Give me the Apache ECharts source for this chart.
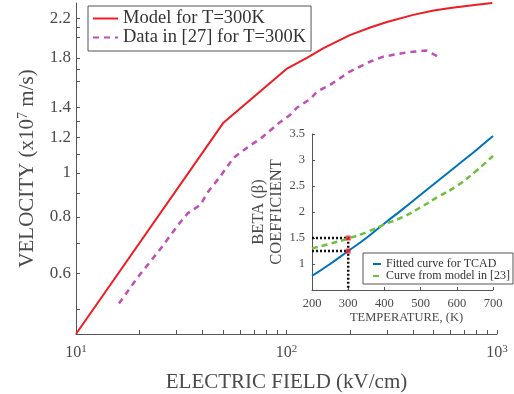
<!DOCTYPE html>
<html>
<head>
<meta charset="utf-8">
<script src="https://cdn.jsdelivr.net/npm/echarts@6/dist/echarts.min.js"></script>
<style>html,body{margin:0;padding:0;background:#fff}#c{width:514px;height:394px}</style>
</head>
<body>
<div id="c"></div>
<script>
// ---- main chart data ----
const fieldModel = [10, 50, 100, 125, 150, 200, 250, 300, 400, 500, 600, 800, 950];
const velModel   = [0.44, 1.29, 1.70, 1.80, 1.89, 2.02, 2.10, 2.16, 2.24, 2.29, 2.32, 2.36, 2.38];
const fieldData  = [16, 19.5, 25, 31, 34, 39, 42, 49, 56, 67, 75, 85, 92, 104, 112, 130, 140, 161, 200, 250, 288, 372, 463, 526];
const velData    = [0.514, 0.585, 0.676, 0.774, 0.815, 0.85, 0.903, 0.99, 1.08, 1.15, 1.19, 1.25, 1.29, 1.345, 1.395, 1.46, 1.517, 1.567, 1.678, 1.766, 1.81, 1.85, 1.867, 1.81];
const xTickLabels = [10, 100, 1000];
const xMinorTicks = [10,20,30,40,50,60,70,80,90,100,200,300,400,500,600,700,800,900,1000];
const yTickLabels = [0.6, 0.8, 1, 1.2, 1.4, 1.8, 2.2];
const yMinorTicks = [0.5,0.6,0.7,0.8,0.9,1,1.1,1.2,1.3,1.4,1.6,1.7,1.8,2.0,2.1,2.2];
// ---- inset data ----
const tempK     = [200, 250, 300, 350, 400, 450, 500, 550, 600, 650, 700];
const betaFit   = [0.77, 1.00, 1.25, 1.50, 1.78, 2.05, 2.33, 2.61, 2.89, 3.17, 3.46];
const betaModel = [1.30, 1.39, 1.49, 1.61, 1.76, 1.90, 2.09, 2.30, 2.50, 2.77, 3.08];
const markTemp  = 300;
const markBeta  = [1.25, 1.5];

const insetXMin = 200, insetYMin = 0.5;
const serif = 'Liberation Serif';
const labelColor = '#4a4a4a';
const axisColor = '#555';

const zip = (a, b) => a.map((v, i) => [v, b[i]]);

const chart = echarts.init(document.getElementById('c'), null, {renderer: 'canvas'});
chart.setOption({
  backgroundColor: '#fff',
  animation: false,
  grid: [
    {left: 76, right: 17, top: 3, bottom: 60, outerBoundsMode: 'none'},
    {left: 312, right: 21, top: 134, bottom: 104, outerBoundsMode: 'none'}
  ],
  legend: [
    {
      data: ['Model for T=300K', 'Data in [27] for T=300K'],
      orient: 'vertical', left: 88, top: 6,
      padding: [3, 5, 4, 4],
      itemWidth: 25, itemHeight: 14, itemGap: 0,
      itemStyle: {opacity: 0, borderWidth: 0},
      borderColor: '#555', borderWidth: 1,
      textStyle: {fontFamily: serif, fontSize: 18.5, color: '#333', lineHeight: 18}
    },
    {
      data: ['Fitted curve for TCAD', 'Curve from model in [23]'],
      orient: 'vertical', left: 363, top: 253,
      padding: [5, 3, 2, 9],
      itemWidth: 8, itemHeight: 10, itemGap: 0,
      itemStyle: {opacity: 0, borderWidth: 0},
      borderColor: '#555', borderWidth: 1,
      textStyle: {fontFamily: serif, fontSize: 12, color: '#333', lineHeight: 12}
    }
  ],
  xAxis: [
    {
      type: 'log', logBase: 10, min: 10, max: 1000, gridIndex: 0,
      axisLine: {lineStyle: {color: axisColor, width: 1}},
      axisTick: {inside: true, length: 4, customValues: xMinorTicks, lineStyle: {color: axisColor}},
      minorTick: {show: false},
      splitLine: {show: false},
      axisLabel: {
        customValues: xTickLabels, margin: 10,
        fontFamily: serif, fontSize: 16, color: labelColor,
        formatter: v => '10{sup|' + Math.round(Math.log10(v)) + '}',
        rich: {sup: {fontFamily: serif, fontSize: 11, color: labelColor, padding: [0, 0, 7, 0]}}
      },
      name: 'ELECTRIC FIELD (kV/cm)', nameLocation: 'middle', nameGap: 38,
      nameTextStyle: {fontFamily: serif, fontSize: 21, color: labelColor}
    },
    {
      type: 'value', min: 200, max: 700, interval: 100, gridIndex: 1,
      axisLine: {lineStyle: {color: axisColor, width: 1}},
      axisTick: {inside: true, length: 3, lineStyle: {color: axisColor}},
      splitLine: {show: false},
      axisLabel: {margin: 7, fontFamily: serif, fontSize: 12.5, color: labelColor},
      name: 'TEMPERATURE, (K)', nameLocation: 'middle', nameGap: 19,
      nameTextStyle: {fontFamily: serif, fontSize: 12.5, color: labelColor, padding: [0, 0, 0, 8]}
    }
  ],
  yAxis: [
    {
      type: 'log', logBase: 10, min: 0.44, max: 2.38, gridIndex: 0,
      axisLine: {lineStyle: {color: axisColor, width: 1}},
      axisTick: {inside: true, length: 4, customValues: yMinorTicks, lineStyle: {color: axisColor}},
      minorTick: {show: false},
      splitLine: {show: false},
      axisLabel: {customValues: yTickLabels, margin: 5, fontFamily: serif, fontSize: 17, color: labelColor},
      name: 'VELOCITY (x10{sup|7} m/s)', nameLocation: 'middle', nameGap: 37,
      nameTextStyle: {fontFamily: serif, fontSize: 21, color: labelColor,
        rich: {sup: {fontFamily: serif, fontSize: 14, color: labelColor, padding: [0, 0, 9, 0]}}}
    },
    {
      type: 'value', min: 0.5, max: 3.5, interval: 0.5, gridIndex: 1,
      axisLine: {lineStyle: {color: axisColor, width: 1}},
      axisTick: {inside: true, length: 3, lineStyle: {color: axisColor}},
      splitLine: {show: false},
      axisLabel: {margin: 7, showMinLabel: false, fontFamily: serif, fontSize: 12.5, color: labelColor},
      name: 'BETA (β)\nCOEFFICIENT', nameLocation: 'middle', nameGap: 22,
      nameTextStyle: {fontFamily: serif, fontSize: 16.5, color: labelColor, lineHeight: 18}
    }
  ],
  series: [
    {
      name: 'Model for T=300K', type: 'line', xAxisIndex: 0, yAxisIndex: 0,
      data: zip(fieldModel, velModel), symbol: 'none', smooth: false,
      lineStyle: {color: '#ee1c24', width: 2}, itemStyle: {color: '#ee1c24'}
    },
    {
      name: 'Data in [27] for T=300K', type: 'line', xAxisIndex: 0, yAxisIndex: 0,
      data: zip(fieldData, velData), symbol: 'none',
      lineStyle: {color: '#bf4fb5', width: 2.5, type: [6, 5]}, itemStyle: {color: '#bf4fb5'}
    },
    {
      name: 'guideHigh', type: 'line', xAxisIndex: 1, yAxisIndex: 1, symbol: 'none',
      data: [[insetXMin, markBeta[1]], [markTemp, markBeta[1]], [markTemp, insetYMin]],
      lineStyle: {color: '#111', width: 2.5, type: [2, 2]}, z: 1
    },
    {
      name: 'guideLow', type: 'line', xAxisIndex: 1, yAxisIndex: 1, symbol: 'none',
      data: [[insetXMin, markBeta[0]], [markTemp, markBeta[0]]],
      lineStyle: {color: '#111', width: 2.5, type: [2, 2]}, z: 1
    },
    {
      name: 'Fitted curve for TCAD', type: 'line', xAxisIndex: 1, yAxisIndex: 1,
      data: zip(tempK, betaFit), symbol: 'none', smooth: true,
      lineStyle: {color: '#0072bd', width: 2}, itemStyle: {color: '#0072bd'}, z: 3
    },
    {
      name: 'Curve from model in [23]', type: 'line', xAxisIndex: 1, yAxisIndex: 1,
      data: zip(tempK, betaModel), symbol: 'none', smooth: true,
      lineStyle: {color: '#6fbf3f', width: 2.5, type: [6, 4]}, itemStyle: {color: '#6fbf3f'}, z: 3
    },
    {
      name: 'marks', type: 'scatter', xAxisIndex: 1, yAxisIndex: 1,
      data: markBeta.map(b => [markTemp, b]), symbol: 'rect', symbolSize: 5,
      itemStyle: {color: '#ee1c24'}, z: 4
    }
  ]
});
</script>
</body>
</html>
